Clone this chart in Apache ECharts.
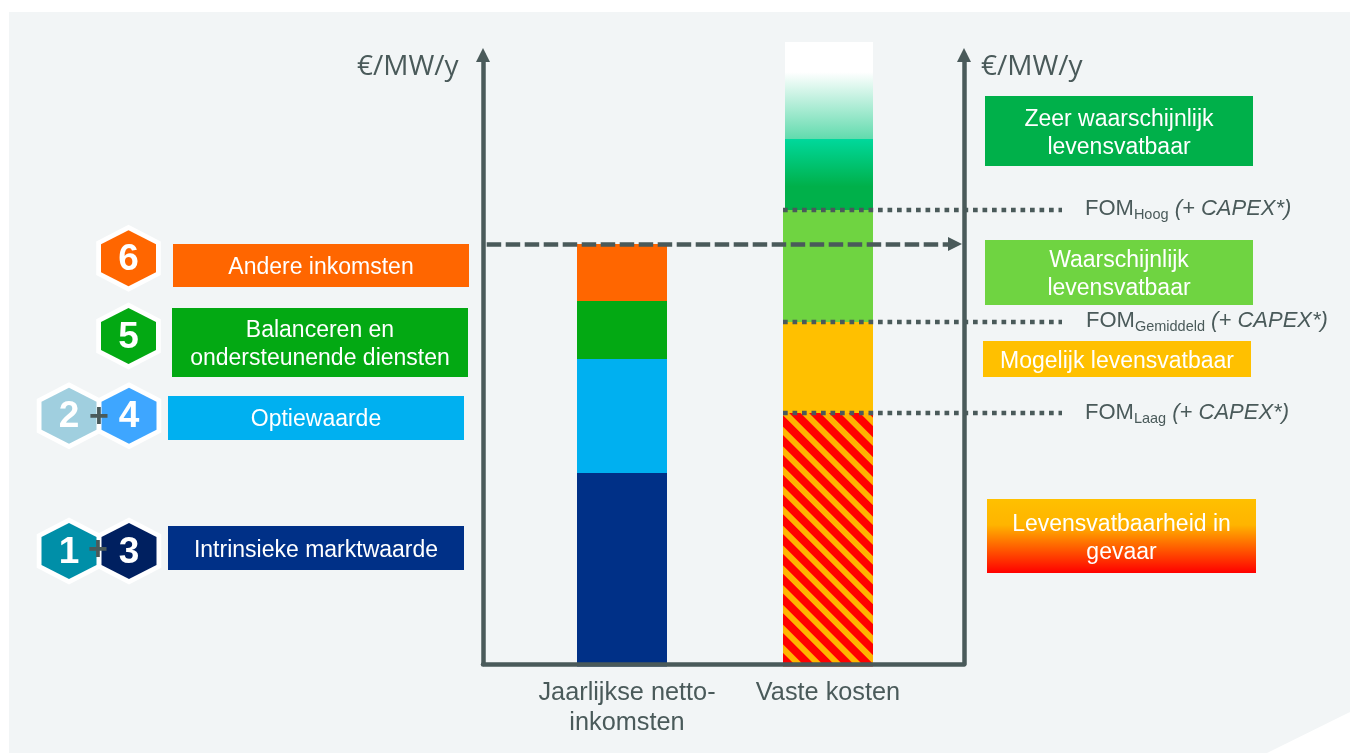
<!DOCTYPE html>
<html>
<head>
<meta charset="utf-8">
<style>
  html, body { margin: 0; padding: 0; background: #ffffff; }
  #chart { width: 1350px; height: 753px; }
</style>
<script src="https://cdn.jsdelivr.net/npm/echarts@6/dist/echarts.min.js"></script>
</head>
<body>
<div id="chart"></div>
<script>
// Stacked columns: yearly net income against fixed costs, in €/MW/y (indicative scale)
const categories = ['Jaarlijkse netto-\ninkomsten', 'Vaste kosten'];
const incomeSegments = [193.5, 114, 58, 57];
const incomeNames = ['Intrinsieke marktwaarde', 'Optiewaarde', 'Balanceren en ondersteunende diensten', 'Andere inkomsten'];
const costSegments = [253.5, 91, 112, 168];
const costNames = ['Levensvatbaarheid in gevaar', 'Mogelijk levensvatbaar', 'Waarschijnlijk levensvatbaar', 'Zeer waarschijnlijk levensvatbaar'];
const fomLabels = ['Laag', 'Gemiddeld', 'Hoog'];
const unitLabel = '€/MW/y';
const capexLabel = '(+ CAPEX*)';

const INK = '#4a5a5a';
const SANS = '"Liberation Sans", Arial, sans-serif';
const incomeColors = ['#003087', '#00b0f0', '#03a913', '#ff6600'];

// Cumulative levels used by the column tops and the guide lines
const costLevels = costSegments.reduce((acc, v) => { acc.push((acc.length ? acc[acc.length - 1] : 0) + v); return acc; }, []);
const incomeTotal = incomeSegments.reduce((a, b) => a + b, 0);
const costTotal = costLevels[costLevels.length - 1];

function box(x0, y0, x1, y1, fill, label, dy) {
  return [
    { type: 'rect', shape: { x: x0, y: y0, width: x1 - x0, height: y1 - y0 }, style: { fill: fill } },
    { type: 'text', z: 3, style: { text: label, x: (x0 + x1) / 2, y: (y0 + y1) / 2 + (dy === undefined ? 2 : dy), align: 'center', verticalAlign: 'middle',
        fill: '#ffffff', font: '23px ' + SANS, lineHeight: 28 } }
  ];
}

function hexagon(cx, cy, fill, label) {
  const w = 27.5, h = 28, s = 14;
  const pts = (d) => [[cx, cy - h - d], [cx + w + d * 0.87, cy - s - d * 0.5], [cx + w + d * 0.87, cy + s + d * 0.5],
                      [cx, cy + h + d], [cx - w - d * 0.87, cy + s + d * 0.5], [cx - w - d * 0.87, cy - s - d * 0.5]];
  return [
    { type: 'polygon', z: 1, shape: { points: pts(5.5) }, style: { fill: '#ffffff' } },
    { type: 'polygon', z: 2, shape: { points: pts(0) }, style: { fill: fill } },
    { type: 'text', z: 3, style: { text: label, x: cx, y: cy + 1.5, align: 'center', verticalAlign: 'middle',
        fill: '#ffffff', font: 'bold 37px ' + SANS } }
  ];
}

function plus(cx, cy) {
  return { type: 'text', z: 4, style: { text: '+', x: cx, y: cy, align: 'center', verticalAlign: 'middle', fill: INK, font: 'bold 34px ' + SANS } };
}

function unitText(x) {
  return { type: 'text', style: { text: unitLabel, x: x, y: 67, align: 'left', verticalAlign: 'middle', fill: INK, font: '28px "Open Sans", sans-serif' } };
}

function fomText(x, y, sub) {
  return { type: 'text', style: { x: x, y: y, align: 'left', verticalAlign: 'middle',
      text: '{a|FOM}{s|' + sub + '}{a| }{i|' + capexLabel + '}',
      rich: {
        a: { fontSize: 22, fontFamily: 'Liberation Sans', fill: INK },
        s: { fontSize: 14.5, fontFamily: 'Liberation Sans', fill: INK, padding: [12, 0, 0, 0] },
        i: { fontSize: 22, fontFamily: 'Liberation Sans', fontStyle: 'italic', fill: INK }
      } } };
}

const graphics = [
  // Panel behind the chart, with its clipped lower right corner
  { type: 'polygon', z: -10, shape: { points: [[9, 12], [1350, 12], [1350, 712], [1267, 753], [9, 753]] }, style: { fill: '#f2f5f6' } },
  unitText(357), unitText(981),

  ...box(173, 244, 469, 287, incomeColors[3], incomeNames[3]),
  ...box(172, 308, 468, 377, incomeColors[2], 'Balanceren en\nondersteunende diensten'),
  ...box(168, 396, 464, 440, incomeColors[1], incomeNames[1]),
  ...box(168, 526, 464, 570, incomeColors[0], incomeNames[0], 3),

  ...hexagon(128.5, 258.3, '#ff6600', '6'),
  ...hexagon(128.5, 336, '#03a913', '5'),
  ...hexagon(69, 415.7, '#a0cfdf', '2'),
  ...hexagon(129, 415.7, '#3ea6ff', '4'),
  plus(99, 418),
  ...hexagon(69, 551, '#008fa8', '1'),
  ...hexagon(129, 551, '#002060', '3'),
  plus(98, 551),

  ...box(985, 96, 1253, 166, '#00b04a', 'Zeer waarschijnlijk\nlevensvatbaar', 3),
  ...box(985, 240, 1253, 305, '#6fd441', 'Waarschijnlijk\nlevensvatbaar', 2),
  ...box(983, 341, 1251, 377, '#ffc000', costNames[1], 3),
  ...box(987, 499, 1256, 573, new echarts.graphic.LinearGradient(0, 0, 0, 1, [
      { offset: 0, color: '#ffc000' }, { offset: 0.35, color: '#ffb400' }, { offset: 1, color: '#ff0000' }
    ]), 'Levensvatbaarheid in\ngevaar', 3),

  fomText(1085, 209, fomLabels[2]),
  fomText(1086, 321, fomLabels[1]),
  fomText(1085, 413, fomLabels[0])
];

function stackSeries(name, value, catIndex, itemStyle) {
  const data = ['-', '-'];
  data[catIndex] = value;
  return { name: name, type: 'bar', stack: 'total', barWidth: 90, xAxisIndex: 0, yAxisIndex: 0, data: data, itemStyle: itemStyle, silent: true };
}

const fadeGradient = new echarts.graphic.LinearGradient(0, 0, 0, 1, [
  { offset: 0, color: '#ffffff' }, { offset: 0.18, color: '#ffffff' },
  { offset: 0.575, color: '#62dbae' }, { offset: 0.58, color: '#00d89b' },
  { offset: 0.86, color: '#00b04a' }, { offset: 1, color: '#00b04a' }
]);

function guide(level) {
  return { type: 'line', xAxisIndex: 2, yAxisIndex: 3, silent: true, showSymbol: false, z: 6,
    data: [[300, level], [579, level]],
    lineStyle: { color: INK, width: 4.5, type: [4.7, 4.8], cap: 'butt' } };
}

const option = {
  animation: false,
  backgroundColor: '#ffffff',
  graphic: graphics,
  // grid 0 holds the columns, grid 1 the axis frame, grid 2 the guide lines running past the frame
  grid: [
    { left: 519, width: 412, top: 42, height: 624.5 },
    { left: 483, width: 481, top: 55, height: 609 },
    { left: 483, width: 581, top: 55, height: 609 }
  ],
  xAxis: [
    { type: 'category', gridIndex: 0, z: 1,
      data: [{ value: categories[0], textStyle: { padding: [0, 0, 0, 10] } }, { value: categories[1] }],
      axisLine: { show: false }, axisTick: { show: false },
      axisLabel: { interval: 0, color: INK, fontFamily: 'Liberation Sans', fontSize: 25.3, lineHeight: 30, margin: 12 } },
    { type: 'value', gridIndex: 1, min: 0, max: 481, z: 5,
      axisLine: { show: true, lineStyle: { color: INK, width: 4.5 } }, axisTick: { show: false }, axisLabel: { show: false }, splitLine: { show: false } },
    { type: 'value', gridIndex: 2, min: 0, max: 581, show: false }
  ],
  yAxis: [
    { type: 'value', gridIndex: 0, min: 0, max: 624.5, show: false },
    { type: 'value', gridIndex: 1, min: 2.5, max: 611.5, position: 'left', z: 5,
      axisLine: { show: true, lineStyle: { color: INK, width: 4.5 }, symbol: ['none', 'triangle'], symbolSize: [14, 14], symbolOffset: [0, 0] },
      axisTick: { show: false }, axisLabel: { show: false }, splitLine: { show: false } },
    { type: 'value', gridIndex: 1, min: 2.5, max: 611.5, position: 'right', z: 5,
      axisLine: { show: true, onZero: false, lineStyle: { color: INK, width: 4.5 }, symbol: ['none', 'triangle'], symbolSize: [14, 14], symbolOffset: [0, 0] },
      axisTick: { show: false }, axisLabel: { show: false }, splitLine: { show: false } },
    { type: 'value', gridIndex: 2, min: 2.5, max: 611.5, show: false }
  ],
  series: [
    ...incomeSegments.map((v, i) => stackSeries(incomeNames[i], v, 0, { color: incomeColors[i] })),
    stackSeries(costNames[0], costSegments[0], 1, {
      color: '#ff0000',
      decal: { symbol: 'rect', symbolSize: 1, color: '#ffb400', dashArrayX: [1, 0], dashArrayY: [5.5, 8], rotation: Math.PI / 4 }
    }),
    stackSeries(costNames[1], costSegments[1], 1, { color: '#ffc000' }),
    stackSeries(costNames[2], costSegments[2], 1, { color: '#6fd441' }),
    {
      // Top segment of the cost column fades out to white and sits slightly narrower
      name: costNames[3], type: 'custom', xAxisIndex: 0, yAxisIndex: 0, silent: true, z: 3,
      encode: { x: 0, y: [1, 2] },
      data: [[1, costLevels[2], costTotal]],
      renderItem: function (params, api) {
        const bottom = api.coord([api.value(0), api.value(1)]);
        const top = api.coord([api.value(0), api.value(2)]);
        return { type: 'rect', shape: { x: bottom[0] - 43, y: top[1], width: 88, height: bottom[1] - top[1] }, style: { fill: fadeGradient } };
      }
    },
    // Net income level carried across to the cost column
    { type: 'line', xAxisIndex: 1, yAxisIndex: 1, silent: true, showSymbol: false, z: 6, data: [],
      markLine: { silent: true, animation: false, symbol: ['none', 'triangle'], symbolSize: 14, label: { show: false },
        lineStyle: { color: INK, width: 4.5, type: [14.5, 4.5], cap: 'butt' },
        data: [[{ coord: [3.7, incomeTotal] }, { coord: [472, incomeTotal] }]] } },
    guide(costLevels[2]), guide(costLevels[1]), guide(costLevels[0])
  ]
};

const chart = echarts.init(document.getElementById('chart'), null, { renderer: 'canvas' });
chart.setOption(option);
</script>
</body>
</html>
